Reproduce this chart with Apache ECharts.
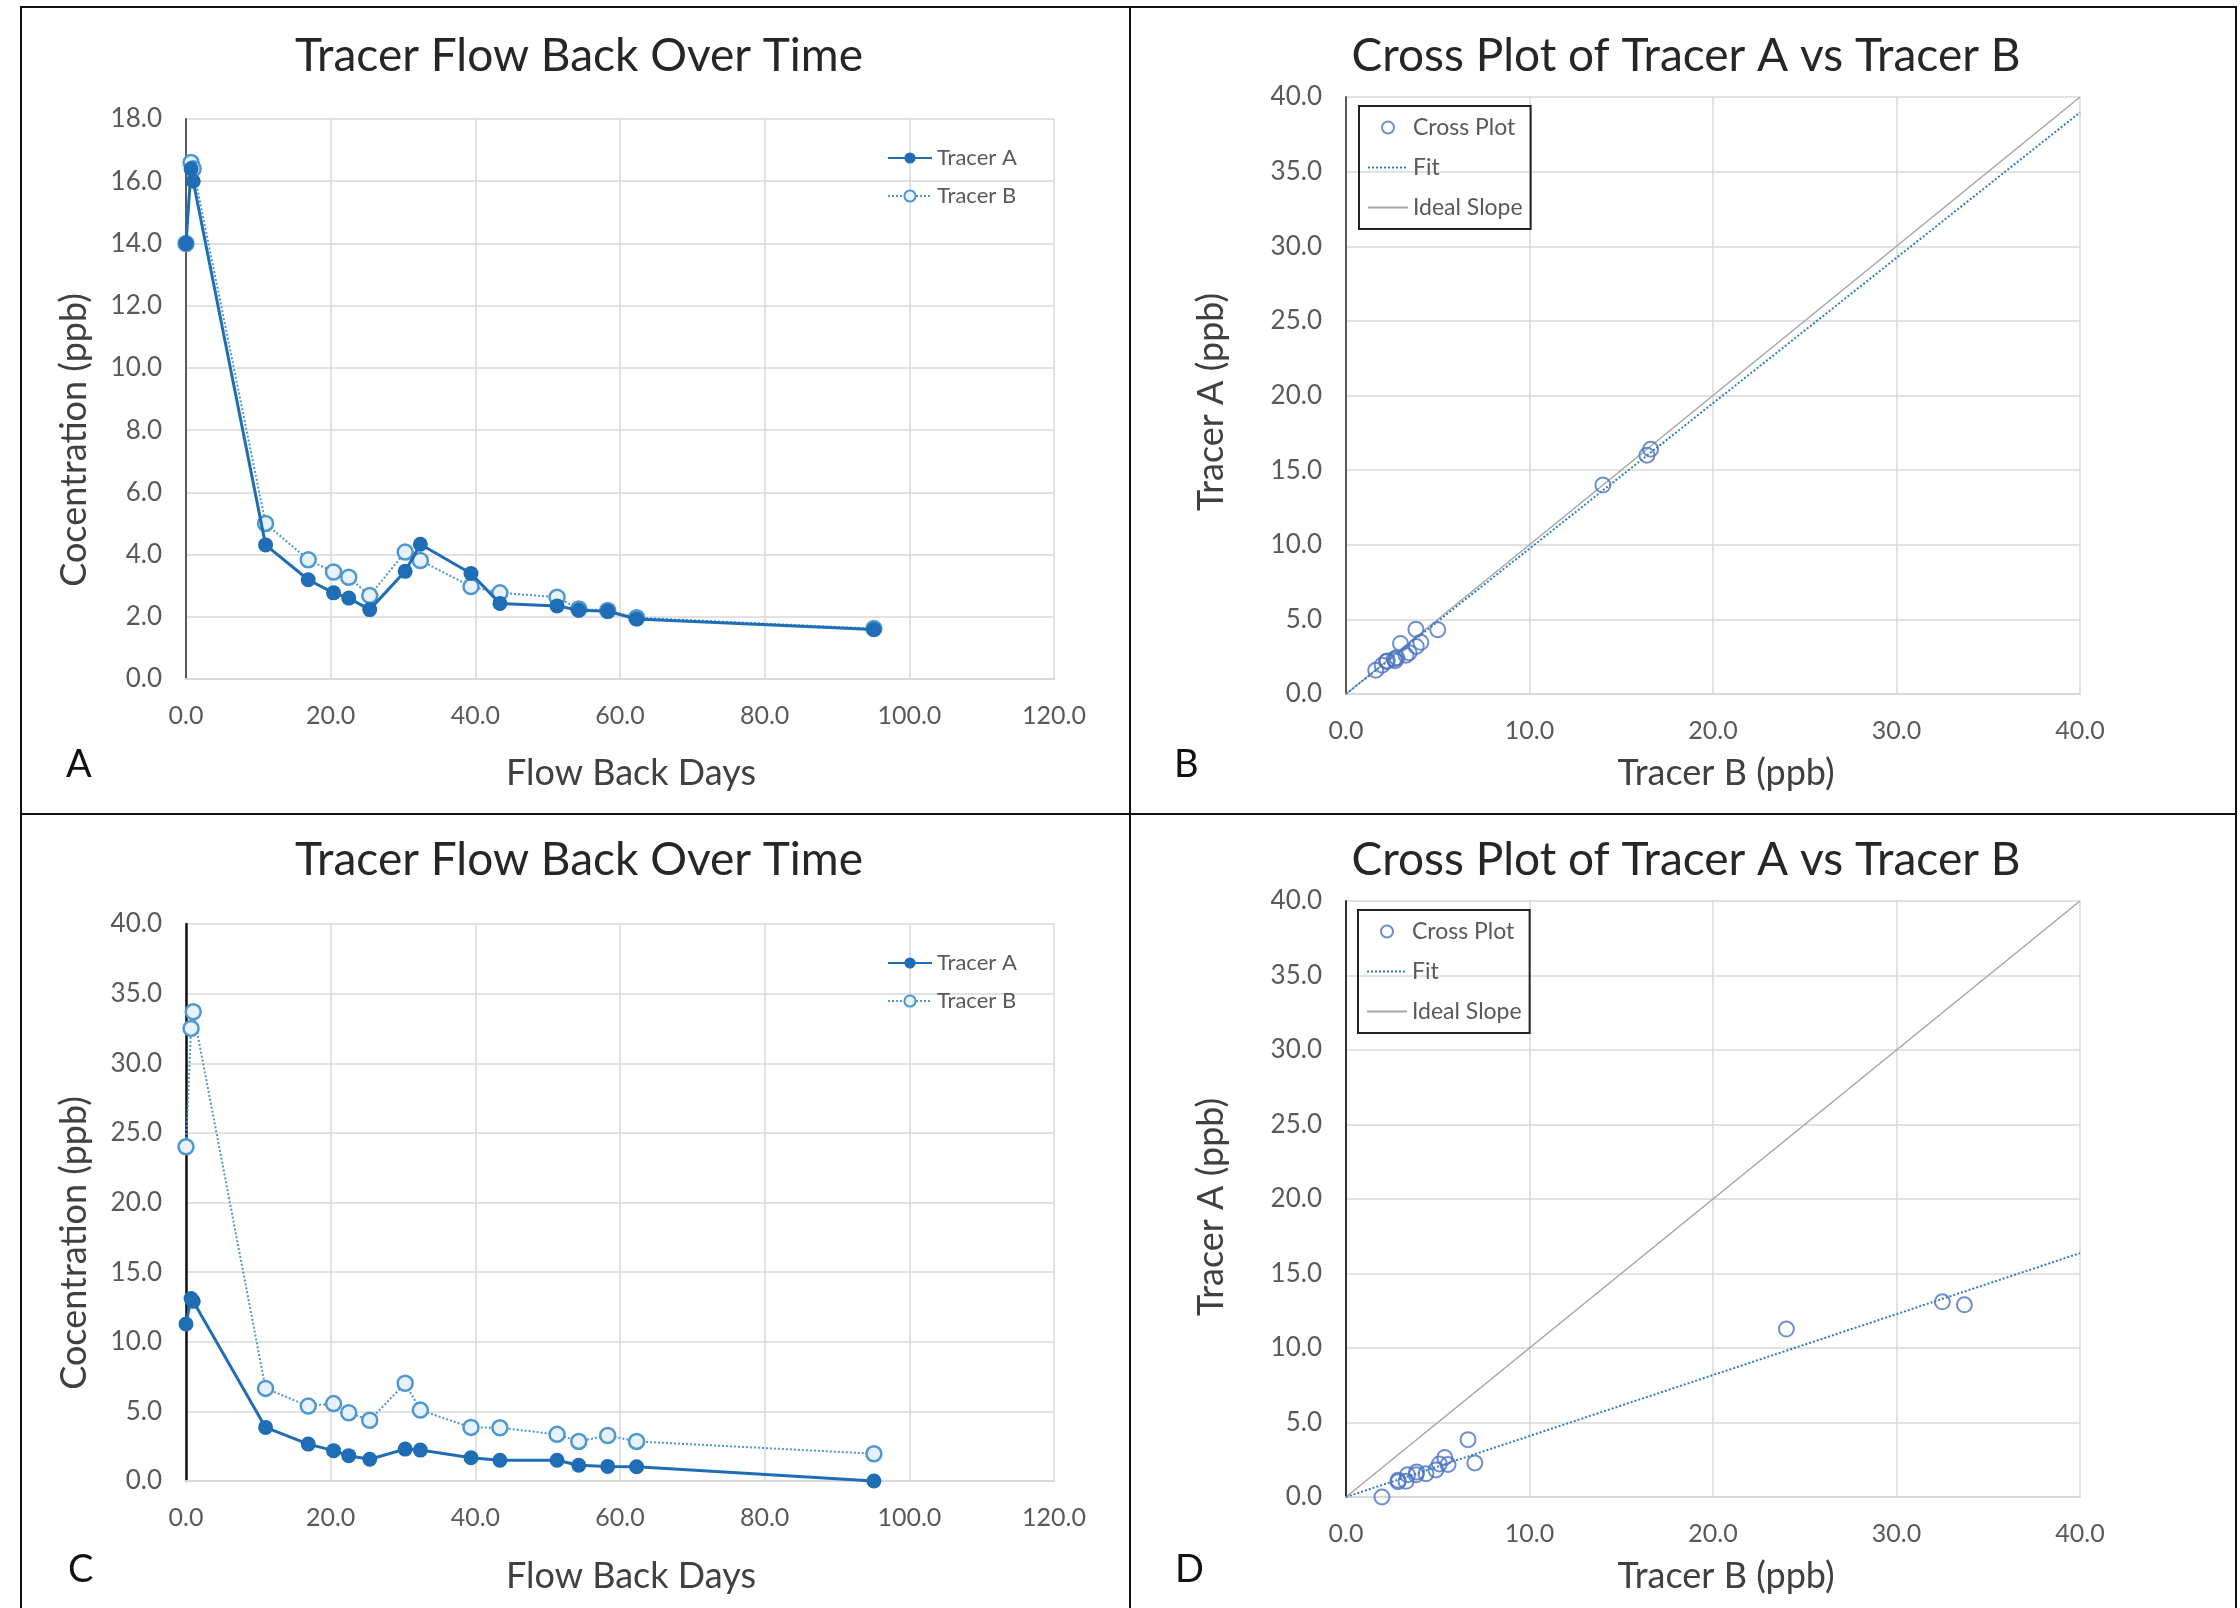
<!DOCTYPE html>
<html>
<head>
<meta charset="utf-8">
<script src="https://cdn.jsdelivr.net/npm/echarts@6/dist/echarts.min.js"></script>
<style>
  html, body { margin: 0; padding: 0; background: #fff; }
  #main { width: 2240px; height: 1608px; }
</style>
</head>
<body>
<div id="main"></div>
<script>
// flow back days (shared by both wells)
var days = [0, 0.7, 1.0, 11.0, 16.9, 20.4, 22.5, 25.4, 30.3, 32.4, 39.4, 43.4, 51.3, 54.3, 58.3, 62.3, 95.1];
// well 1 (panels A, B)
var tracerA1 = [14.0, 16.4, 16.0, 4.31, 3.19, 2.77, 2.6, 2.23, 3.46, 4.33, 3.39, 2.43, 2.35, 2.21, 2.18, 1.93, 1.59];
var tracerB1 = [14.0, 16.6, 16.4, 5.0, 3.83, 3.44, 3.27, 2.68, 4.08, 3.81, 2.97, 2.77, 2.63, 2.25, 2.2, 1.97, 1.62];
// well 2 (panels C, D)
var tracerA2 = [11.27, 13.1, 12.9, 3.85, 2.65, 2.18, 1.82, 1.56, 2.29, 2.22, 1.67, 1.49, 1.49, 1.13, 1.05, 1.02, 0.0];
var tracerB2 = [24.0, 32.5, 33.7, 6.65, 5.38, 5.56, 4.9, 4.36, 7.02, 5.09, 3.85, 3.82, 3.35, 2.84, 3.27, 2.84, 1.96];
var crossRange = [0, 40];

var FONT = 'Lato';
var blueA = '#1f6db5';
var blueB = '#4f97cf';
var crossBlue = '#4a73c0';

function pairs(xs, ys) {
  return xs.map(function (x, i) { return [x, ys[i]]; });
}
// trendline through the origin (least squares)
function fitSlope(xs, ys) {
  var sxy = 0, sxx = 0;
  xs.forEach(function (x, i) { sxy += x * ys[i]; sxx += x * x; });
  return sxy / sxx;
}

var myChart = echarts.init(document.getElementById('main'));

var grids = [
  { left: 186, top: 119, width: 868, height: 560 },
  { left: 1346, top: 97, width: 734, height: 597 },
  { left: 186, top: 924, width: 868, height: 557 },
  { left: 1346, top: 901, width: 734, height: 596 }
];

function xAx(idx, max, interval) {
  return {
    gridIndex: idx, type: 'value', min: 0, max: max, interval: interval,
    axisLine: { show: true, onZero: false, lineStyle: { color: '#d9d9d9', width: 2 } },
    axisTick: { show: false },
    axisLabel: { fontFamily: FONT, fontSize: 25, color: '#595959', margin: 24,
      formatter: function (v) { return v.toFixed(1); } },
    splitLine: { show: true, lineStyle: { color: '#d9d9d9', width: 1.5 } }
  };
}
function yAx(idx, max, interval, lineColor, lineWidth) {
  return {
    gridIndex: idx, type: 'value', min: 0, max: max, interval: interval,
    axisLine: { show: true, onZero: false, lineStyle: { color: lineColor, width: lineWidth } },
    axisTick: { show: false },
    axisLabel: { fontFamily: FONT, fontSize: 26, color: '#595959', margin: 24,
      formatter: function (v) { return v.toFixed(1); } },
    splitLine: { show: true, lineStyle: { color: '#d9d9d9', width: 1.5 } }
  };
}

function timeSeries(idx, a, b) {
  return [
    {
      name: 'Tracer B', type: 'line', xAxisIndex: idx, yAxisIndex: idx,
      data: pairs(days, b), symbol: 'circle', symbolSize: 15, z: 3,
      lineStyle: { color: blueB, width: 2, type: 'dotted' },
      itemStyle: { color: '#e6f1fa', borderColor: blueB, borderWidth: 2.5 }
    },
    {
      name: 'Tracer A', type: 'line', xAxisIndex: idx, yAxisIndex: idx,
      data: pairs(days, a), symbol: 'circle', symbolSize: 15, z: 4,
      lineStyle: { color: blueA, width: 3 },
      itemStyle: { color: blueA }
    }
  ];
}

function crossSeries(idx, a, b) {
  var k = fitSlope(b, a);
  return [
    {
      name: 'Ideal Slope', type: 'line', xAxisIndex: idx, yAxisIndex: idx,
      data: pairs(crossRange, crossRange), symbol: 'none', z: 2,
      lineStyle: { color: '#a6a6a6', width: 1.5 }, itemStyle: { color: '#a6a6a6' }
    },
    {
      name: 'Fit', type: 'line', xAxisIndex: idx, yAxisIndex: idx,
      data: pairs(crossRange, crossRange.map(function (x) { return x * k; })),
      symbol: 'none', z: 3,
      lineStyle: { color: '#2e7fc0', width: 2, type: 'dotted' }, itemStyle: { color: '#2e7fc0' }
    },
    {
      name: 'Cross Plot', type: 'scatter', xAxisIndex: idx, yAxisIndex: idx,
      data: pairs(b, a), symbol: 'circle', symbolSize: 15, z: 4,
      itemStyle: { color: 'rgba(255,255,255,0)', borderColor: crossBlue, borderWidth: 2 }
    }
  ];
}

function timeLegend(top) {
  return {
    data: ['Tracer A', 'Tracer B'], orient: 'vertical', left: 882, top: top,
    itemWidth: 44, itemHeight: 14, itemGap: 16,
    textStyle: { fontFamily: FONT, fontSize: 22, color: '#595959' }
  };
}
function crossLegend(left, top) {
  // hide the marker that echarts puts on line-only legend icons
  var noMark = { opacity: 0 };
  return {
    data: ['Cross Plot', { name: 'Fit', itemStyle: noMark }, { name: 'Ideal Slope', itemStyle: noMark }],
    orient: 'vertical', left: left, top: top,
    itemWidth: 40, itemHeight: 12, itemGap: 17,
    padding: [10, 8, 10, 8], borderColor: '#222', borderWidth: 2,
    textStyle: { fontFamily: FONT, fontSize: 23, color: '#595959' }
  };
}

function panelTitle(text, x, y) {
  return { text: text, left: x, top: y, textAlign: 'center',
    textStyle: { fontFamily: FONT, fontSize: 46, fontWeight: 'normal', color: '#262626' } };
}

function axisName(text, x, y, vertical) {
  return { type: 'text', x: x, y: y, rotation: vertical ? Math.PI / 2 : 0, silent: true,
    style: { text: text, font: '36px Lato', fill: '#404040', align: 'center', verticalAlign: 'middle' } };
}
function letter(text, x, y) {
  return { type: 'text', left: x, top: y, silent: true,
    style: { text: text, font: '38px Lato', fill: '#111' } };
}

myChart.setOption({
  backgroundColor: '#fff',
  animation: false,
  title: [
    panelTitle('Tracer Flow Back Over Time', 574, 28),
    panelTitle('Cross Plot of Tracer A vs Tracer B', 1681, 28),
    panelTitle('Tracer Flow Back Over Time', 574, 832),
    panelTitle('Cross Plot of Tracer A vs Tracer B', 1681, 832)
  ],
  legend: [timeLegend(142), crossLegend(1359, 106), timeLegend(947), crossLegend(1358, 910)],
  grid: grids,
  xAxis: [xAx(0, 120, 20), xAx(1, 40, 10), xAx(2, 120, 20), xAx(3, 40, 10)],
  yAxis: [
    yAx(0, 18, 2, '#595959', 2),
    yAx(1, 40, 5, '#595959', 2),
    yAx(2, 40, 5, '#111', 2.5),
    yAx(3, 40, 5, '#333', 2)
  ],
  series: [].concat(
    timeSeries(0, tracerA1, tracerB1),
    crossSeries(1, tracerA1, tracerB1),
    timeSeries(2, tracerA2, tracerB2),
    crossSeries(3, tracerA2, tracerB2)
  ),
  graphic: [
    { type: 'rect', shape: { x: 21, y: 7, width: 2215, height: 1610 },
      style: { fill: 'none', stroke: '#111', lineWidth: 2 }, silent: true },
    { type: 'line', shape: { x1: 1130, y1: 7, x2: 1130, y2: 1608 },
      style: { stroke: '#111', lineWidth: 2 }, silent: true },
    { type: 'line', shape: { x1: 21, y1: 814, x2: 2236, y2: 814 },
      style: { stroke: '#111', lineWidth: 2 }, silent: true },
    axisName('Cocentration (ppb)', 74, 440, true),
    axisName('Flow Back Days', 631, 773, false),
    axisName('Tracer A (ppb)', 1211, 402, true),
    axisName('Tracer B (ppb)', 1726, 773, false),
    axisName('Cocentration (ppb)', 74, 1243, true),
    axisName('Flow Back Days', 631, 1576, false),
    axisName('Tracer A (ppb)', 1211, 1207, true),
    axisName('Tracer B (ppb)', 1726, 1576, false),
    letter('A', 66, 746),
    letter('B', 1174, 746),
    letter('C', 68, 1551),
    letter('D', 1175, 1551)
  ]
});
</script>
</body>
</html>
